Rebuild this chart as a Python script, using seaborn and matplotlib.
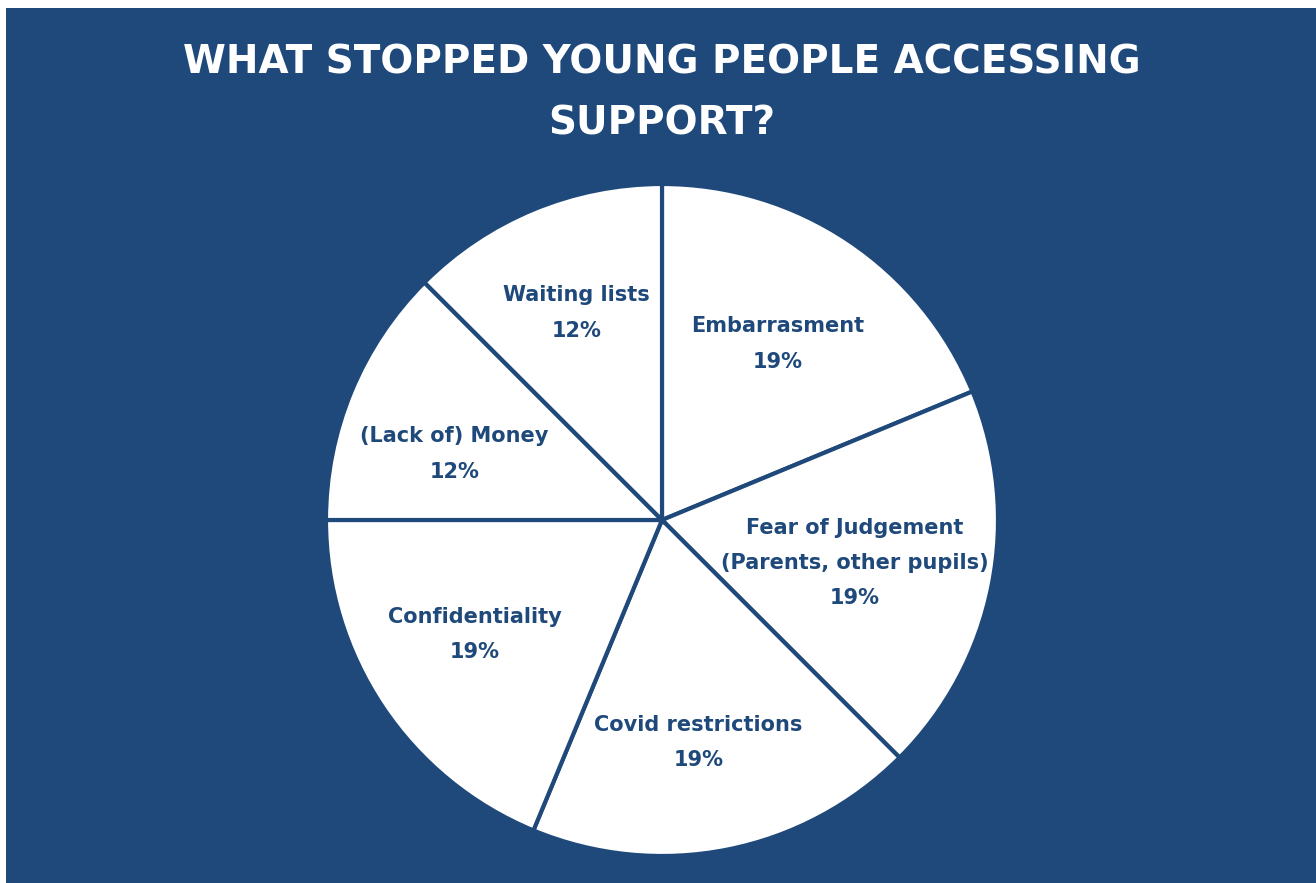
import matplotlib
matplotlib.use("Agg")
import matplotlib.pyplot as plt
import seaborn as sns
import numpy as np

sns.set_theme(style="white")
plt.rcParams['font.family'] = ['DejaVu Sans']

categories = ["Embarrasment", "Fear of Judgement\n(Parents, other pupils)", "Covid restrictions",
              "Confidentiality", "(Lack of) Money", "Waiting lists"]
values = [18.75, 18.75, 18.75, 18.75, 12.5, 12.5]
title = "WHAT STOPPED YOUNG PEOPLE ACCESSING\nSUPPORT?"

BLUE = "#1f497b"

fig = plt.figure(figsize=(13.16, 8.83), dpi=100)
fig.patch.set_facecolor("white")
bg = fig.add_axes([6/1316, 0, 1 - 6/1316, 875/883])
bg.set_facecolor(BLUE)
bg.set_xticks([]); bg.set_yticks([])
for s in bg.spines.values():
    s.set_visible(False)

r_px = 336
cx, cy = 662, 883 - 520
ax = fig.add_axes([(cx - r_px) / 1316, (cy - r_px) / 883, 2 * r_px / 1316, 2 * r_px / 883])
ax.set_facecolor("none")
ax.axis("off")
wedges, _ = ax.pie(values, startangle=90, counterclock=False, colors=["white"] * len(values),
                   wedgeprops=dict(edgecolor=BLUE, linewidth=3))
ax.set_xlim(-1, 1); ax.set_ylim(-1, 1)
ax.set_aspect("auto")

# label placement: radial fraction and angular nudge (degrees) from wedge middle
fracs = [0.626, 0.588, 0.672, 0.653, 0.649, 0.667]
nudges = [0.5, -1.3, -2.0, -2.2, 4.9, 0.0]
for w, lab, v, f, d in zip(wedges, categories, values, fracs, nudges):
    mid = np.deg2rad((w.theta1 + w.theta2) / 2 + d)
    x, y = f * np.cos(mid), f * np.sin(mid)
    ax.text(x, y, f"{lab}\n{v:.0f}%", ha="center", va="center", color=BLUE,
            fontsize=15, fontweight="bold", linespacing=1.95)

fig.text(662 / 1316, 1 - 93 / 883, title, ha="center", va="center", color="white",
         fontsize=28, fontweight="bold", linespacing=1.75)

fig.savefig("out.png", dpi=100, facecolor=fig.get_facecolor())
